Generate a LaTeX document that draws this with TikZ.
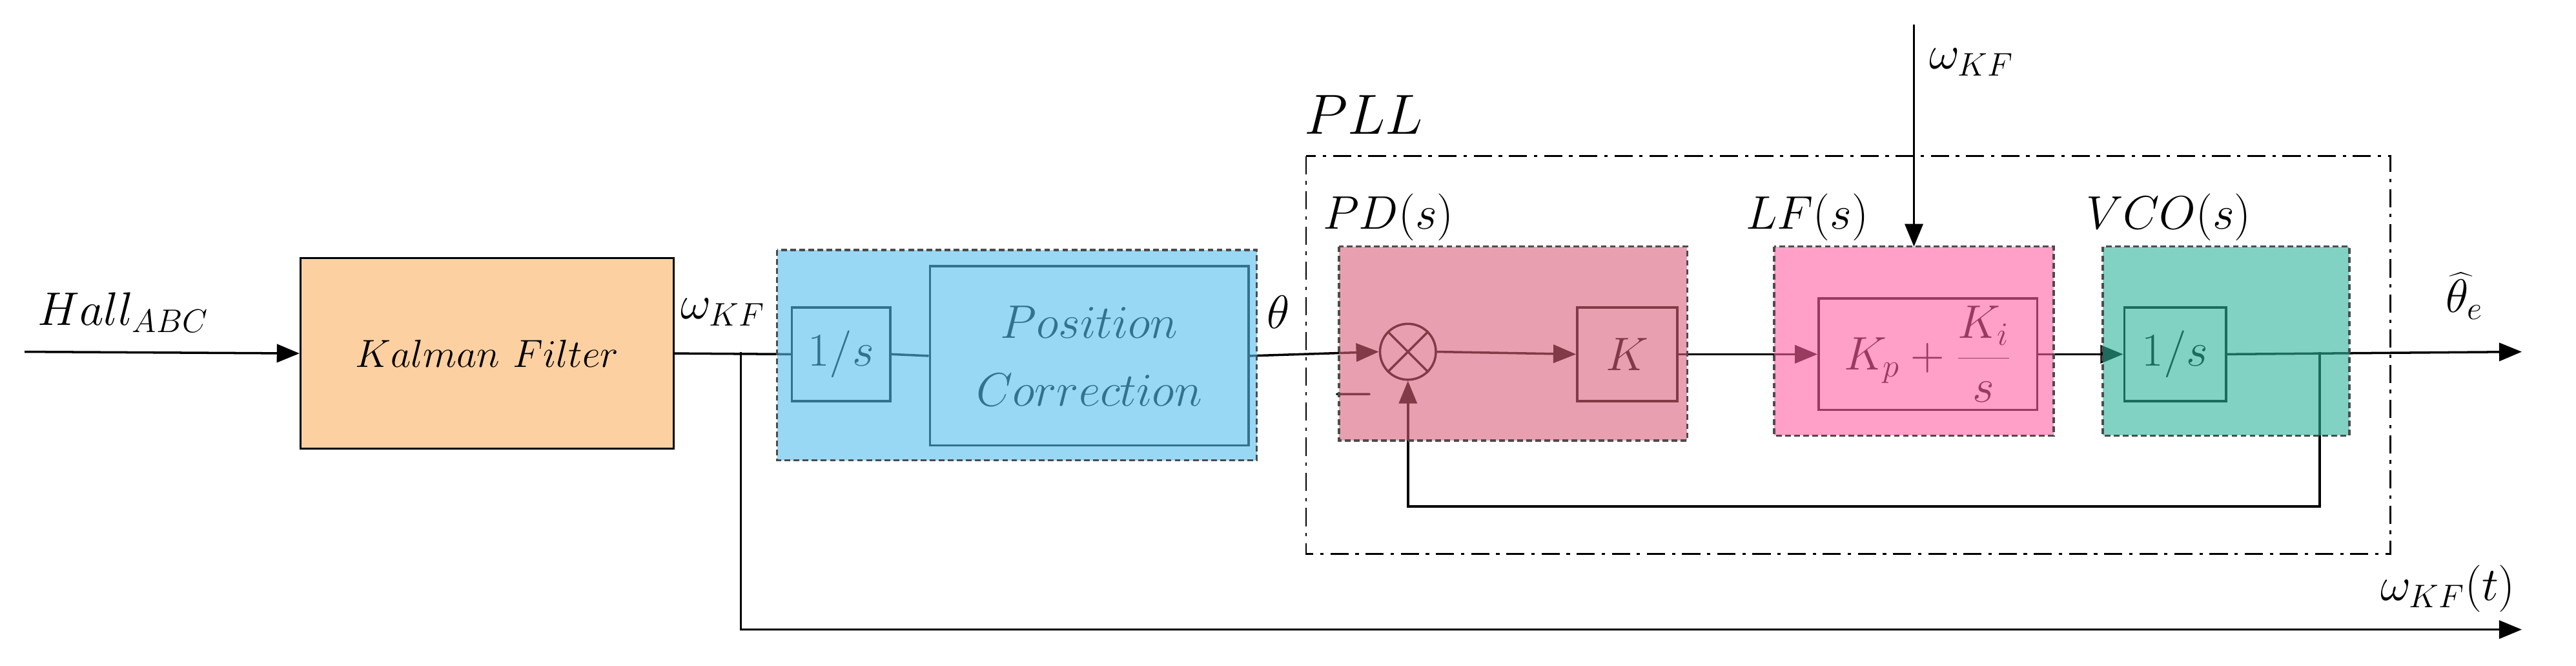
\documentclass[tikz,border=0pt]{standalone}
\usetikzlibrary{arrows.meta}
\definecolor{kal}{RGB}{253,208,162}
\definecolor{cb}{RGB}{85,190,238}
\definecolor{cpd}{RGB}{217,97,123}
\definecolor{clf}{RGB}{255,97,163}
\definecolor{cvco}{RGB}{47,180,155}
\begin{document}
\begin{tikzpicture}[x=0.02545cm,y=-0.02545cm,
  line width=1pt, >={Triangle[length=10pt,width=8pt]},
  lbl/.style={font=\fontsize{22}{26}\selectfont},
  ov/.style={fill=#1,fill opacity=0.6,draw=black!70,line width=1pt,dash pattern=on 2.5pt off 1.5pt}]
\useasboundingbox (0,0) rectangle (1568,405);
% nodes
\node[lbl] (hall) at (75,190) {$Hall_{ABC}$};
\coordinate (in) at (15,214);
\node[draw,fill=kal,minimum width=227*0.02545cm,minimum height=116*0.02545cm,font=\fontsize{19}{22}\selectfont] (kf) at (296.5,215) {$Kalman\ Filter$};
\node[lbl] at (440,190) {$\omega_{KF}$};
\coordinate (br) at (451,214);
\coordinate (brd) at (451,383);
\coordinate (out2) at (1535,383);
\node[lbl] at (1490,358) {$\omega_{KF}(t)$};
\node[draw,minimum width=60*0.02545cm,minimum height=57*0.02545cm,lbl] (int1) at (512,215.5) {$1/s$};
\node[draw,minimum width=194*0.02545cm,minimum height=109*0.02545cm,lbl,align=center] (pc) at (663,216.5) {$Position$\\[4pt]$Correction$};
\node[lbl] at (778,190) {$\theta$};
\node[draw,circle,minimum size=34*0.02545cm,inner sep=0pt] (sum) at (857,214) {};
\draw (sum.north west) -- (sum.south east) (sum.north east) -- (sum.south west);
\node[font=\fontsize{30}{30}\selectfont] at (824,240) {$-$};
\node[draw,minimum width=61*0.02545cm,minimum height=57*0.02545cm,lbl] (K) at (990.5,215.5) {$K$};
\node[draw,minimum width=133*0.02545cm,minimum height=57*0.02545cm,lbl] (lf) at (1173.5,215.5) {$K_p+\displaystyle\frac{K_i}{s}$};
\node[draw,minimum width=62*0.02545cm,minimum height=57*0.02545cm,lbl] (int2) at (1324,215.5) {$1/s$};
\coordinate (fb) at (1412,214);
\coordinate (out) at (1535,214);
\node[lbl] at (1500,180) {$\widehat{\theta}_e$};
\node[lbl] at (1200,38) {$\omega_{KF}$};
\coordinate (wtop) at (1165,15);
% connectors
\draw[->] (in) -- (kf.west);
\draw (kf.east) -- (int1.west);
\draw[->] (br) -- (brd) -- (out2);
\draw (int1.east) -- (pc.west);
\draw[->] (pc.east) -- (sum.west);
\draw[->] (sum.east) -- (K.west);
\draw[->] (K.east) -- (lf.west);
\draw[->] (lf.east) -- (int2.west);
\draw[->] (int2.east) -- (out);
\draw[->] (fb) -- (1412,308) -- (857,308) -- (sum.south);
\draw[->] (wtop) -- (1165,150);
% PLL
\draw[line width=0.8pt,dash pattern=on 8pt off 3pt on 1.5pt off 3pt] (795,95) rectangle (1455,337);
\node[font=\fontsize{26}{30}\selectfont] at (830,70) {$PLL$};
\node[lbl] at (845,132) {$PD(s)$};
\node[lbl] at (1100,132) {$LF(s)$};
\node[lbl] at (1320,132) {$VCO(s)$};
% overlays
\draw[ov=cb] (473,152) rectangle (765,280);
\draw[ov=cpd] (815,150) rectangle (1027,268);
\draw[ov=clf] (1080,150) rectangle (1250,265);
\draw[ov=cvco] (1280,150) rectangle (1430,265);
\end{tikzpicture}
\end{document}
